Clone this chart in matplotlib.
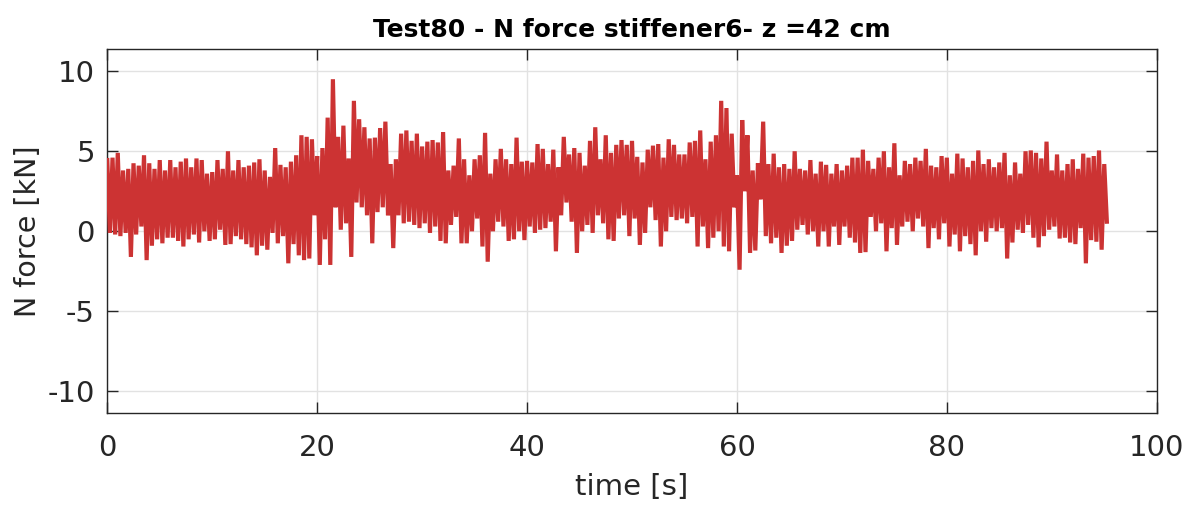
import numpy as np
import matplotlib
matplotlib.use("Agg")
import matplotlib.pyplot as plt

plt.rcParams['font.family'] = ['DejaVu Sans']
plt.rcParams['axes.unicode_minus'] = False

# Upper peaks of the signal, one every 0.5 s starting at t = 0 s  [kN]
peaks_00_16 = [4.45, 4.6, 4.9, 3.8, 3.9, 4.25, 4.1, 4.75, 4.25, 3.9, 4.45, 3.8, 4.45, 4.0, 4.35, 4.55,
               4.0, 4.55, 4.45, 3.6, 3.7, 4.45, 3.9, 5.0, 3.8, 4.45, 4.0, 4.1, 4.3, 4.5, 3.8, 3.4]
peaks_16_32 = [5.2, 4.15, 4.0, 4.35, 4.75, 6.0, 5.9, 5.75, 4.7, 5.2, 7.1, 9.5, 5.9, 6.6, 4.55, 8.15,
               7.0, 6.5, 5.8, 5.85, 6.45, 6.85, 4.2, 4.5, 6.1, 6.3, 5.65, 6.1, 5.3, 5.6, 5.7, 5.55]
peaks_32_48 = [6.2, 3.8, 4.1, 5.8, 4.5, 3.5, 4.5, 4.75, 6.15, 3.6, 4.5, 5.15, 4.5, 4.2, 5.85, 4.35,
               4.4, 4.3, 5.45, 5.15, 4.2, 5.1, 4.0, 5.9, 4.8, 5.2, 4.9, 4.1, 5.65, 6.5, 4.5, 6.0, 4.9]
peaks_48_64 = [5.4, 5.7, 5.4, 5.65, 4.65, 4.3, 5.1, 5.35, 5.45, 4.6, 5.75, 5.4, 4.8, 4.8, 5.55, 5.65,
               6.3, 4.5, 5.6, 6.0, 8.15, 7.7, 6.1, 3.5, 6.95, 6.0, 3.8, 4.25, 6.85, 4.2, 4.85, 4.0, 4.2]
peaks_65_80 = [3.9, 5.0, 3.9, 3.8, 4.45, 3.6, 4.35, 4.15, 3.6, 4.2, 3.8, 4.1, 4.6, 4.6, 5.1, 4.4,
               3.9, 4.6, 5.0, 4.0, 5.5, 3.5, 4.4, 4.2, 4.6, 4.4, 5.15, 4.1, 4.0, 4.7, 4.6, 3.6]
peaks_81_95 = [4.85, 4.55, 4.0, 4.4, 5.05, 4.2, 4.5, 4.0, 4.3, 4.9, 3.5, 4.3, 3.6, 5.0, 5.05, 4.9,
               4.55, 5.6, 3.8, 4.8, 3.8, 4.2, 4.5, 3.9, 4.85, 4.6, 4.7, 5.05, 4.2]

# Lower troughs of the signal, one every 0.5 s starting at t = 0.25 s  [kN]
troughs_00_16 = [-0.1, -0.2, -0.3, -0.1, -1.6, -0.2, 0.3, -1.8, -0.9, -0.5, -0.75, -0.4, -0.4, -0.6, -0.95, -0.5,
                 -0.2, -0.7, 0.0, -0.6, -0.5, 0.1, -0.85, -0.8, -0.3, -0.5, -0.8, -1.0, -1.5, -0.9, -1.15, -0.1]
troughs_16_32 = [-0.75, -0.3, -2.0, -0.8, -1.5, -1.8, -1.7, 1.0, -2.1, -0.5, -2.1, 1.5, 0.1, 0.5, -1.6, 1.8,
                 1.5, 1.0, -0.75, 1.2, 1.5, 1.0, -1.05, 1.0, 0.5, 0.6, 0.4, 0.2, 0.5, -0.1, 0.3, -0.6]
troughs_32_48 = [-0.75, 0.4, 0.9, -0.75, -0.75, 0.0, 0.8, -0.95, -1.9, 0.0, 0.6, 0.3, -0.6, -0.5, 0.0, -0.55,
                 0.3, -0.1, 0.1, 0.2, 0.6, -1.25, 1.0, 1.8, 0.6, -1.35, 0.0, 0.4, -0.1, 1.0, 0.5, -0.5, -0.6]
troughs_48_64 = [0.8, 1.0, -0.3, 0.8, -0.85, -0.1, 1.5, 0.7, -0.95, 0.0, 0.9, 0.7, 0.8, 0.5, 0.9, -0.95,
                 0.3, -1.05, -0.4, 0.0, -0.95, -1.25, 1.5, -2.4, 2.5, -1.35, -1.2, 2.0, -0.3, -0.75, -0.4, -1.35, -0.9]
troughs_65_80 = [-0.6, 0.1, 0.4, -0.2, 0.0, -0.95, 0.0, -0.95, 0.3, -0.85, 0.3, -0.4, -0.7, -1.35, -1.3, 0.9,
                 0.0, 0.5, -1.25, 0.2, -0.85, 0.3, 0.6, 0.0, 0.8, 0.3, -1.05, 0.2, -0.5, 0.5, -0.95, -0.2]
troughs_81_95 = [-1.25, -0.3, -0.8, -1.5, 0.0, -0.65, 0.2, 0.0, 0.2, -1.7, -0.7, 0.1, -0.1, 0.4, -0.4, -1.0,
                 -0.3, 0.1, 0.3, -0.45, -0.4, -0.7, -0.8, 0.2, -2.0, -0.55, -0.65, -1.15, 0.6]

sample_step = 0.25  # s between consecutive peak / trough samples

title_text = "Test80 - N force stiffener6- z =42 cm"
x_label = "time [s]"
y_label = "N force [kN]"
x_ticks = [0, 20, 40, 60, 80, 100]
y_ticks = [-10, -5, 0, 5, 10]

peaks = np.array(peaks_00_16 + peaks_16_32 + peaks_32_48 + peaks_48_64 + peaks_65_80 + peaks_81_95)
troughs = np.array(troughs_00_16 + troughs_16_32 + troughs_32_48 + troughs_48_64 + troughs_65_80 + troughs_81_95)
n = min(len(peaks), len(troughs))
force = np.empty(2 * n)
force[0::2] = peaks[:n]
force[1::2] = troughs[:n]
time = np.arange(2 * n) * sample_step

fig = plt.figure(figsize=(11.92, 5.14), dpi=100)
ax = fig.add_axes([0.0900, 0.1959, 0.8804, 0.7082])

ax.plot(time, force, color='#cc3333', linewidth=3.0, solid_joinstyle='miter', zorder=3)

ax.set_xlim(0, 100)
ax.set_ylim(-11.37, 11.37)
ax.set_xticks(x_ticks)
ax.set_yticks(y_ticks)
ax.grid(True, color='#e2e2e2', linewidth=1.0, zorder=0)
ax.set_axisbelow(True)

edge = '#262626'
for s in ax.spines.values():
    s.set_color(edge)
    s.set_linewidth(1.0)
ax.tick_params(direction='in', top=True, right=True, length=8, width=1.0,
               colors=edge, labelsize=21)
ax.tick_params(axis='x', pad=15)
ax.tick_params(axis='y', pad=9)

ax.set_title(title_text, fontsize=18, fontweight='bold', color='black', pad=9)
ax.set_xlabel(x_label, fontsize=21, color=edge, labelpad=8)
ax.set_ylabel(y_label, fontsize=20.5, color=edge, labelpad=4)

fig.savefig("out.png", dpi=100)
